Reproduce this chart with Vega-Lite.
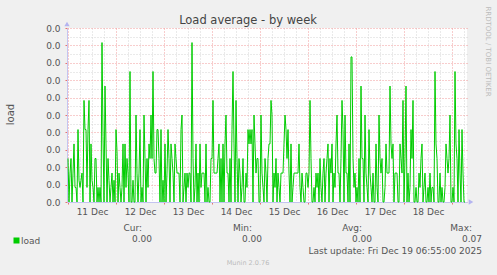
{
"$schema": "https://vega.github.io/schema/vega-lite/v6.json",
"width": 400, "height": 174,
"autosize": {"type": "none"},
"padding": {"left": 67, "top": 28, "right": 30, "bottom": 73},
"background": "#f0f0f0",
"title": {"text": "Load average - by week", "frame": "group", "anchor": "middle", "dx": -19, "offset": -30, "baseline": "alphabetic", "fontSize": 11.5, "fontWeight": "normal", "color": "#444444", "font": "DejaVu Sans"},
"datasets": {
"stats": [{"stat":"Cur","label":"Cur:","value":0},{"stat":"Min","label":"Min:","value":0},{"stat":"Avg","label":"Avg:","value":0},{"stat":"Max","label":"Max:","value":0.07}],
"load": [
{"t":"2025-12-11T00:00","v":0.02},{"t":"2025-12-11T00:30","v":0},{"t":"2025-12-11T01:00","v":0.0133},{"t":"2025-12-11T01:30","v":0.02},{"t":"2025-12-11T02:00","v":0},{"t":"2025-12-11T02:30","v":0.0133},{"t":"2025-12-11T03:00","v":0.0267},{"t":"2025-12-11T03:30","v":0.0067},{"t":"2025-12-11T04:00","v":0.0067},{"t":"2025-12-11T04:30","v":0},{"t":"2025-12-11T05:00","v":0.0333},{"t":"2025-12-11T05:30","v":0.01},{"t":"2025-12-11T06:00","v":0.0067},{"t":"2025-12-11T06:30","v":0.01},{"t":"2025-12-11T07:00","v":0.0133},{"t":"2025-12-11T07:30","v":0},{"t":"2025-12-11T08:00","v":0.0467},{"t":"2025-12-11T08:30","v":0.0333},{"t":"2025-12-11T09:00","v":0.0333},{"t":"2025-12-11T09:30","v":0.0067},{"t":"2025-12-11T10:00","v":0.0333},{"t":"2025-12-11T10:30","v":0.0467},{"t":"2025-12-11T11:00","v":0},{"t":"2025-12-11T11:30","v":0.0267},{"t":"2025-12-11T12:00","v":0.01},{"t":"2025-12-11T12:30","v":0.0067},{"t":"2025-12-11T13:00","v":0},{"t":"2025-12-11T13:30","v":0.02},{"t":"2025-12-11T14:00","v":0.02},{"t":"2025-12-11T14:30","v":0},{"t":"2025-12-11T15:00","v":0.0067},{"t":"2025-12-11T15:30","v":0},{"t":"2025-12-11T16:00","v":0.0067},{"t":"2025-12-11T16:30","v":0},{"t":"2025-12-11T17:00","v":0.0733},{"t":"2025-12-11T17:30","v":0.03},{"t":"2025-12-11T18:00","v":0},{"t":"2025-12-11T18:30","v":0.0533},{"t":"2025-12-11T19:00","v":0.0267},{"t":"2025-12-11T19:30","v":0},{"t":"2025-12-11T20:00","v":0.02},{"t":"2025-12-11T20:30","v":0.01},{"t":"2025-12-11T21:00","v":0},{"t":"2025-12-11T21:30","v":0.0067},{"t":"2025-12-11T22:00","v":0.0133},{"t":"2025-12-11T22:30","v":0},{"t":"2025-12-11T23:00","v":0.01},{"t":"2025-12-11T23:30","v":0},
{"t":"2025-12-12T00:00","v":0.0333},{"t":"2025-12-12T00:30","v":0.0233},{"t":"2025-12-12T01:00","v":0},{"t":"2025-12-12T01:30","v":0.0133},{"t":"2025-12-12T02:00","v":0.0067},{"t":"2025-12-12T02:30","v":0},{"t":"2025-12-12T03:00","v":0.0067},{"t":"2025-12-12T03:30","v":0.0267},{"t":"2025-12-12T04:00","v":0},{"t":"2025-12-12T04:30","v":0.0267},{"t":"2025-12-12T05:00","v":0.0067},{"t":"2025-12-12T05:30","v":0.02},{"t":"2025-12-12T06:00","v":0.0133},{"t":"2025-12-12T06:30","v":0},{"t":"2025-12-12T07:00","v":0.06},{"t":"2025-12-12T07:30","v":0},{"t":"2025-12-12T08:00","v":0},{"t":"2025-12-12T08:30","v":0.01},{"t":"2025-12-12T09:00","v":0},{"t":"2025-12-12T09:30","v":0},{"t":"2025-12-12T10:00","v":0.04},{"t":"2025-12-12T10:30","v":0.0133},{"t":"2025-12-12T11:00","v":0},{"t":"2025-12-12T11:30","v":0.0133},{"t":"2025-12-12T12:00","v":0.0333},{"t":"2025-12-12T12:30","v":0},{"t":"2025-12-12T13:00","v":0.0067},{"t":"2025-12-12T13:30","v":0},{"t":"2025-12-12T14:00","v":0.04},{"t":"2025-12-12T14:30","v":0.02},{"t":"2025-12-12T15:00","v":0},{"t":"2025-12-12T15:30","v":0.02},{"t":"2025-12-12T16:00","v":0.0067},{"t":"2025-12-12T16:30","v":0.0267},{"t":"2025-12-12T17:00","v":0.02},{"t":"2025-12-12T17:30","v":0.04},{"t":"2025-12-12T18:00","v":0.02},{"t":"2025-12-12T18:30","v":0.06},{"t":"2025-12-12T19:00","v":0.02},{"t":"2025-12-12T19:30","v":0.0133},{"t":"2025-12-12T20:00","v":0.0133},{"t":"2025-12-12T20:30","v":0.0333},{"t":"2025-12-12T21:00","v":0.0333},{"t":"2025-12-12T21:30","v":0.02},{"t":"2025-12-12T22:00","v":0},{"t":"2025-12-12T22:30","v":0.0333},{"t":"2025-12-12T23:00","v":0},{"t":"2025-12-12T23:30","v":0.01},
{"t":"2025-12-13T00:00","v":0},{"t":"2025-12-13T00:30","v":0.0267},{"t":"2025-12-13T01:00","v":0},{"t":"2025-12-13T01:30","v":0.0133},{"t":"2025-12-13T02:00","v":0.0333},{"t":"2025-12-13T02:30","v":0.02},{"t":"2025-12-13T03:00","v":0},{"t":"2025-12-13T03:30","v":0.0267},{"t":"2025-12-13T04:00","v":0.02},{"t":"2025-12-13T04:30","v":0.0133},{"t":"2025-12-13T05:00","v":0},{"t":"2025-12-13T05:30","v":0.0267},{"t":"2025-12-13T06:00","v":0.02},{"t":"2025-12-13T06:30","v":0.0133},{"t":"2025-12-13T07:00","v":0.0133},{"t":"2025-12-13T07:30","v":0.0133},{"t":"2025-12-13T08:00","v":0},{"t":"2025-12-13T08:30","v":0.0333},{"t":"2025-12-13T09:00","v":0.04},{"t":"2025-12-13T09:30","v":0},{"t":"2025-12-13T10:00","v":0.0067},{"t":"2025-12-13T10:30","v":0.0133},{"t":"2025-12-13T11:00","v":0},{"t":"2025-12-13T11:30","v":0.0133},{"t":"2025-12-13T12:00","v":0.0067},{"t":"2025-12-13T12:30","v":0.0133},{"t":"2025-12-13T13:00","v":0.0133},{"t":"2025-12-13T13:30","v":0},{"t":"2025-12-13T14:00","v":0.0733},{"t":"2025-12-13T14:30","v":0.02},{"t":"2025-12-13T15:00","v":0},{"t":"2025-12-13T15:30","v":0.0067},{"t":"2025-12-13T16:00","v":0.0267},{"t":"2025-12-13T16:30","v":0},{"t":"2025-12-13T17:00","v":0.0133},{"t":"2025-12-13T17:30","v":0},{"t":"2025-12-13T18:00","v":0.0267},{"t":"2025-12-13T18:30","v":0.0067},{"t":"2025-12-13T19:00","v":0.0133},{"t":"2025-12-13T19:30","v":0.0133},{"t":"2025-12-13T20:00","v":0.0133},{"t":"2025-12-13T20:30","v":0},{"t":"2025-12-13T21:00","v":0.0267},{"t":"2025-12-13T21:30","v":0},{"t":"2025-12-13T22:00","v":0.0067},{"t":"2025-12-13T22:30","v":0},{"t":"2025-12-13T23:00","v":0},{"t":"2025-12-13T23:30","v":0.02},
{"t":"2025-12-14T00:00","v":0.02},{"t":"2025-12-14T00:30","v":0.0467},{"t":"2025-12-14T01:00","v":0.0133},{"t":"2025-12-14T01:30","v":0.0133},{"t":"2025-12-14T02:00","v":0.0133},{"t":"2025-12-14T02:30","v":0.0133},{"t":"2025-12-14T03:00","v":0.02},{"t":"2025-12-14T03:30","v":0.0267},{"t":"2025-12-14T04:00","v":0},{"t":"2025-12-14T04:30","v":0.02},{"t":"2025-12-14T05:00","v":0},{"t":"2025-12-14T05:30","v":0.0267},{"t":"2025-12-14T06:00","v":0},{"t":"2025-12-14T06:30","v":0.0267},{"t":"2025-12-14T07:00","v":0.04},{"t":"2025-12-14T07:30","v":0.0133},{"t":"2025-12-14T08:00","v":0.0133},{"t":"2025-12-14T08:30","v":0},{"t":"2025-12-14T09:00","v":0.02},{"t":"2025-12-14T09:30","v":0},{"t":"2025-12-14T10:00","v":0.0333},{"t":"2025-12-14T10:30","v":0.06},{"t":"2025-12-14T11:00","v":0.0267},{"t":"2025-12-14T11:30","v":0},{"t":"2025-12-14T12:00","v":0.0467},{"t":"2025-12-14T12:30","v":0.02},{"t":"2025-12-14T13:00","v":0},{"t":"2025-12-14T13:30","v":0.02},{"t":"2025-12-14T14:00","v":0.0133},{"t":"2025-12-14T14:30","v":0},{"t":"2025-12-14T15:00","v":0.0067},{"t":"2025-12-14T15:30","v":0.02},{"t":"2025-12-14T16:00","v":0},{"t":"2025-12-14T16:30","v":0},{"t":"2025-12-14T17:00","v":0.0133},{"t":"2025-12-14T17:30","v":0.0067},{"t":"2025-12-14T18:00","v":0.0333},{"t":"2025-12-14T18:30","v":0.0267},{"t":"2025-12-14T19:00","v":0.0333},{"t":"2025-12-14T19:30","v":0.0267},{"t":"2025-12-14T20:00","v":0.0333},{"t":"2025-12-14T20:30","v":0},{"t":"2025-12-14T21:00","v":0.04},{"t":"2025-12-14T21:30","v":0.0267},{"t":"2025-12-14T22:00","v":0.0133},{"t":"2025-12-14T22:30","v":0.02},{"t":"2025-12-14T23:00","v":0.02},{"t":"2025-12-14T23:30","v":0},
{"t":"2025-12-15T00:00","v":0},{"t":"2025-12-15T00:30","v":0.04},{"t":"2025-12-15T01:00","v":0.0133},{"t":"2025-12-15T01:30","v":0.0067},{"t":"2025-12-15T02:00","v":0},{"t":"2025-12-15T02:30","v":0.02},{"t":"2025-12-15T03:00","v":0.0133},{"t":"2025-12-15T03:30","v":0},{"t":"2025-12-15T04:00","v":0.02},{"t":"2025-12-15T04:30","v":0.0267},{"t":"2025-12-15T05:00","v":0.0267},{"t":"2025-12-15T05:30","v":0.0467},{"t":"2025-12-15T06:00","v":0.04},{"t":"2025-12-15T06:30","v":0},{"t":"2025-12-15T07:00","v":0.0133},{"t":"2025-12-15T07:30","v":0.0067},{"t":"2025-12-15T08:00","v":0.02},{"t":"2025-12-15T08:30","v":0},{"t":"2025-12-15T09:00","v":0.0133},{"t":"2025-12-15T09:30","v":0.0067},{"t":"2025-12-15T10:00","v":0},{"t":"2025-12-15T10:30","v":0.0133},{"t":"2025-12-15T11:00","v":0.0133},{"t":"2025-12-15T11:30","v":0.0133},{"t":"2025-12-15T12:00","v":0.0267},{"t":"2025-12-15T12:30","v":0.04},{"t":"2025-12-15T13:00","v":0.0333},{"t":"2025-12-15T13:30","v":0.02},{"t":"2025-12-15T14:00","v":0.0333},{"t":"2025-12-15T14:30","v":0.0133},{"t":"2025-12-15T15:00","v":0},{"t":"2025-12-15T15:30","v":0.0267},{"t":"2025-12-15T16:00","v":0},{"t":"2025-12-15T16:30","v":0.0067},{"t":"2025-12-15T17:00","v":0.0133},{"t":"2025-12-15T17:30","v":0.0133},{"t":"2025-12-15T18:00","v":0.0133},{"t":"2025-12-15T18:30","v":0.0133},{"t":"2025-12-15T19:00","v":0.0133},{"t":"2025-12-15T19:30","v":0.0267},{"t":"2025-12-15T20:00","v":0.0067},{"t":"2025-12-15T20:30","v":0},{"t":"2025-12-15T21:00","v":0.0133},{"t":"2025-12-15T21:30","v":0.0067},{"t":"2025-12-15T22:00","v":0},{"t":"2025-12-15T22:30","v":0},{"t":"2025-12-15T23:00","v":0.0133},{"t":"2025-12-15T23:30","v":0.0133},
{"t":"2025-12-16T00:00","v":0.0067},{"t":"2025-12-16T00:30","v":0.0133},{"t":"2025-12-16T01:00","v":0.0467},{"t":"2025-12-16T01:30","v":0.02},{"t":"2025-12-16T02:00","v":0},{"t":"2025-12-16T02:30","v":0},{"t":"2025-12-16T03:00","v":0.0067},{"t":"2025-12-16T03:30","v":0},{"t":"2025-12-16T04:00","v":0.0133},{"t":"2025-12-16T04:30","v":0.0067},{"t":"2025-12-16T05:00","v":0.0133},{"t":"2025-12-16T05:30","v":0},{"t":"2025-12-16T06:00","v":0.02},{"t":"2025-12-16T06:30","v":0.0067},{"t":"2025-12-16T07:00","v":0},{"t":"2025-12-16T07:30","v":0.0133},{"t":"2025-12-16T08:00","v":0.02},{"t":"2025-12-16T08:30","v":0},{"t":"2025-12-16T09:00","v":0.0133},{"t":"2025-12-16T09:30","v":0.02},{"t":"2025-12-16T10:00","v":0.0267},{"t":"2025-12-16T10:30","v":0},{"t":"2025-12-16T11:00","v":0.02},{"t":"2025-12-16T11:30","v":0.0133},{"t":"2025-12-16T12:00","v":0.0267},{"t":"2025-12-16T12:30","v":0},{"t":"2025-12-16T13:00","v":0.0133},{"t":"2025-12-16T13:30","v":0.0067},{"t":"2025-12-16T14:00","v":0.0267},{"t":"2025-12-16T14:30","v":0.04},{"t":"2025-12-16T15:00","v":0.0133},{"t":"2025-12-16T15:30","v":0.0133},{"t":"2025-12-16T16:00","v":0},{"t":"2025-12-16T16:30","v":0.02},{"t":"2025-12-16T17:00","v":0.0467},{"t":"2025-12-16T17:30","v":0.0333},{"t":"2025-12-16T18:00","v":0},{"t":"2025-12-16T18:30","v":0.04},{"t":"2025-12-16T19:00","v":0.0133},{"t":"2025-12-16T19:30","v":0.0133},{"t":"2025-12-16T20:00","v":0},{"t":"2025-12-16T20:30","v":0.0267},{"t":"2025-12-16T21:00","v":0},{"t":"2025-12-16T21:30","v":0.0667},{"t":"2025-12-16T22:00","v":0.0667},{"t":"2025-12-16T22:30","v":0.02},{"t":"2025-12-16T23:00","v":0.0067},{"t":"2025-12-16T23:30","v":0.0133},
{"t":"2025-12-17T00:00","v":0},{"t":"2025-12-17T00:30","v":0.0067},{"t":"2025-12-17T01:00","v":0},{"t":"2025-12-17T01:30","v":0.02},{"t":"2025-12-17T02:00","v":0},{"t":"2025-12-17T02:30","v":0.0533},{"t":"2025-12-17T03:00","v":0.02},{"t":"2025-12-17T03:30","v":0.02},{"t":"2025-12-17T04:00","v":0},{"t":"2025-12-17T04:30","v":0.04},{"t":"2025-12-17T05:00","v":0.0133},{"t":"2025-12-17T05:30","v":0.0067},{"t":"2025-12-17T06:00","v":0},{"t":"2025-12-17T06:30","v":0.0333},{"t":"2025-12-17T07:00","v":0.0133},{"t":"2025-12-17T07:30","v":0.0067},{"t":"2025-12-17T08:00","v":0},{"t":"2025-12-17T08:30","v":0.0133},{"t":"2025-12-17T09:00","v":0},{"t":"2025-12-17T09:30","v":0},{"t":"2025-12-17T10:00","v":0.0267},{"t":"2025-12-17T10:30","v":0.0067},{"t":"2025-12-17T11:00","v":0},{"t":"2025-12-17T11:30","v":0.04},{"t":"2025-12-17T12:00","v":0.02},{"t":"2025-12-17T12:30","v":0.0133},{"t":"2025-12-17T13:00","v":0.02},{"t":"2025-12-17T13:30","v":0},{"t":"2025-12-17T14:00","v":0},{"t":"2025-12-17T14:30","v":0.0067},{"t":"2025-12-17T15:00","v":0.0267},{"t":"2025-12-17T15:30","v":0.0133},{"t":"2025-12-17T16:00","v":0.0133},{"t":"2025-12-17T16:30","v":0.0133},{"t":"2025-12-17T17:00","v":0.0533},{"t":"2025-12-17T17:30","v":0.0267},{"t":"2025-12-17T18:00","v":0.02},{"t":"2025-12-17T18:30","v":0.0267},{"t":"2025-12-17T19:00","v":0},{"t":"2025-12-17T19:30","v":0.0133},{"t":"2025-12-17T20:00","v":0.0133},{"t":"2025-12-17T20:30","v":0.0133},{"t":"2025-12-17T21:00","v":0},{"t":"2025-12-17T21:30","v":0},{"t":"2025-12-17T22:00","v":0.0267},{"t":"2025-12-17T22:30","v":0.02},{"t":"2025-12-17T23:00","v":0.0133},{"t":"2025-12-17T23:30","v":0.0467},
{"t":"2025-12-18T00:00","v":0},{"t":"2025-12-18T00:30","v":0.02},{"t":"2025-12-18T01:00","v":0.0533},{"t":"2025-12-18T01:30","v":0},{"t":"2025-12-18T02:00","v":0.0133},{"t":"2025-12-18T02:30","v":0},{"t":"2025-12-18T03:00","v":0.0067},{"t":"2025-12-18T03:30","v":0.0333},{"t":"2025-12-18T04:00","v":0.02},{"t":"2025-12-18T04:30","v":0.0467},{"t":"2025-12-18T05:00","v":0},{"t":"2025-12-18T05:30","v":0},{"t":"2025-12-18T06:00","v":0.0067},{"t":"2025-12-18T06:30","v":0},{"t":"2025-12-18T07:00","v":0},{"t":"2025-12-18T07:30","v":0.0133},{"t":"2025-12-18T08:00","v":0.0067},{"t":"2025-12-18T08:30","v":0.02},{"t":"2025-12-18T09:00","v":0.0267},{"t":"2025-12-18T09:30","v":0},{"t":"2025-12-18T10:00","v":0.0067},{"t":"2025-12-18T10:30","v":0.0133},{"t":"2025-12-18T11:00","v":0},{"t":"2025-12-18T11:30","v":0},{"t":"2025-12-18T12:00","v":0.0067},{"t":"2025-12-18T12:30","v":0},{"t":"2025-12-18T13:00","v":0.0133},{"t":"2025-12-18T13:30","v":0},{"t":"2025-12-18T14:00","v":0.0067},{"t":"2025-12-18T14:30","v":0.0067},{"t":"2025-12-18T15:00","v":0},{"t":"2025-12-18T15:30","v":0.06},{"t":"2025-12-18T16:00","v":0.0267},{"t":"2025-12-18T16:30","v":0.02},{"t":"2025-12-18T17:00","v":0},{"t":"2025-12-18T17:30","v":0},{"t":"2025-12-18T18:00","v":0.0133},{"t":"2025-12-18T18:30","v":0},{"t":"2025-12-18T19:00","v":0.0067},{"t":"2025-12-18T19:30","v":0},{"t":"2025-12-18T20:00","v":0},{"t":"2025-12-18T20:30","v":0.0067},{"t":"2025-12-18T21:00","v":0.0267},{"t":"2025-12-18T21:30","v":0.02},{"t":"2025-12-18T22:00","v":0.0133},{"t":"2025-12-18T22:30","v":0.02},{"t":"2025-12-18T23:00","v":0.04},{"t":"2025-12-18T23:30","v":0},
{"t":"2025-12-19T00:00","v":0},{"t":"2025-12-19T00:30","v":0.0067},{"t":"2025-12-19T01:00","v":0},{"t":"2025-12-19T01:30","v":0.06},{"t":"2025-12-19T02:00","v":0.0267},{"t":"2025-12-19T02:30","v":0.02},{"t":"2025-12-19T03:00","v":0},{"t":"2025-12-19T03:30","v":0.0333},{"t":"2025-12-19T04:00","v":0.0133},{"t":"2025-12-19T04:30","v":0},{"t":"2025-12-19T05:00","v":0.0333},{"t":"2025-12-19T05:30","v":0.0133},{"t":"2025-12-19T06:00","v":0},{"t":"2025-12-19T06:30","v":0}
]
},
"layer": [
{"data": {"name": "load"}, "mark": {"type": "line", "strokeOpacity": 0},
 "encoding": {
  "x": {"field": "t", "type": "temporal", "scale": {"domain": [{"year":2025,"month":12,"date":10,"hours":23,"minutes":30},{"year":2025,"month":12,"date":19,"hours":7,"minutes":30}], "nice": false},
        "axis": {"orient": "bottom", "grid": true, "gridColor": "#d4d4d4", "gridDash": [1,2],
                 "values": [{"year":2025,"month":12,"date":11,"hours":6},{"year":2025,"month":12,"date":11,"hours":12},{"year":2025,"month":12,"date":11,"hours":18},{"year":2025,"month":12,"date":12,"hours":6},{"year":2025,"month":12,"date":12,"hours":12},{"year":2025,"month":12,"date":12,"hours":18},{"year":2025,"month":12,"date":13,"hours":6},{"year":2025,"month":12,"date":13,"hours":12},{"year":2025,"month":12,"date":13,"hours":18},{"year":2025,"month":12,"date":14,"hours":6},{"year":2025,"month":12,"date":14,"hours":12},{"year":2025,"month":12,"date":14,"hours":18},{"year":2025,"month":12,"date":15,"hours":6},{"year":2025,"month":12,"date":15,"hours":12},{"year":2025,"month":12,"date":15,"hours":18},{"year":2025,"month":12,"date":16,"hours":6},{"year":2025,"month":12,"date":16,"hours":12},{"year":2025,"month":12,"date":16,"hours":18},{"year":2025,"month":12,"date":17,"hours":6},{"year":2025,"month":12,"date":17,"hours":12},{"year":2025,"month":12,"date":17,"hours":18},{"year":2025,"month":12,"date":18,"hours":6},{"year":2025,"month":12,"date":18,"hours":12},{"year":2025,"month":12,"date":18,"hours":18},{"year":2025,"month":12,"date":19,"hours":6}],
                 "labels": false, "ticks": false, "domain": false, "title": null}},
  "y": {"field": "v", "type": "quantitative", "scale": {"domain": [0, 0.08], "nice": false, "zero": false},
        "axis": {"orient": "right", "grid": true, "gridColor": "#d4d4d4", "gridDash": [1,2], "values": [0.004,0.012,0.02,0.028,0.036,0.044,0.052,0.06,0.068,0.076], "labels": false, "ticks": false, "domain": false,
                 "title": "RRDTOOL / TOBI OETIKER", "titleAngle": 90, "titleX": 20, "titleY": 23, "titleAlign": "center", "titleBaseline": "middle", "titleFontSize": 7, "titleColor": "#bbbbbb", "titleFontWeight": "normal"}}
 }},
{"data": {"name": "load"}, "mark": {"type": "line", "strokeOpacity": 0},
 "encoding": {
  "x": {"field": "t", "type": "temporal", "scale": {"domain": [{"year":2025,"month":12,"date":10,"hours":23,"minutes":30},{"year":2025,"month":12,"date":19,"hours":7,"minutes":30}], "nice": false},
        "axis": {"orient": "bottom", "grid": true, "gridColor": "#f09a9a", "gridDash": [1,2],
                 "values": [{"year":2025,"month":12,"date":11},{"year":2025,"month":12,"date":12},{"year":2025,"month":12,"date":13},{"year":2025,"month":12,"date":14},{"year":2025,"month":12,"date":15},{"year":2025,"month":12,"date":16},{"year":2025,"month":12,"date":17},{"year":2025,"month":12,"date":18},{"year":2025,"month":12,"date":19}],
                 "labels": false, "ticks": true, "tickColor": "#e87070", "tickSize": 2, "domain": false, "title": null}},
  "y": {"field": "v", "type": "quantitative", "scale": {"domain": [0, 0.08], "nice": false, "zero": false},
        "axis": {"orient": "left", "grid": true, "gridColor": "#f09a9a", "gridDash": [1,2], "values": [0,0.008,0.016,0.024,0.032,0.04,0.048,0.056,0.064,0.072,0.08], "labels": false, "ticks": true, "tickColor": "#e87070", "tickSize": 2, "domain": false, "title": null}}
 }},
{"data": {"name": "load"}, "mark": {"type": "line", "strokeWidth": 1, "interpolate": "linear"},
 "encoding": {
  "x": {"field": "t", "type": "temporal", "scale": {"domain": [{"year":2025,"month":12,"date":10,"hours":23,"minutes":30},{"year":2025,"month":12,"date":19,"hours":7,"minutes":30}], "nice": false},
        "axis": {"orient": "bottom", "grid": false, "values": [{"year":2025,"month":12,"date":11,"hours":12},{"year":2025,"month":12,"date":12,"hours":12},{"year":2025,"month":12,"date":13,"hours":12},{"year":2025,"month":12,"date":14,"hours":12},{"year":2025,"month":12,"date":15,"hours":12},{"year":2025,"month":12,"date":16,"hours":12},{"year":2025,"month":12,"date":17,"hours":12},{"year":2025,"month":12,"date":18,"hours":12}],
                 "format": "%d %b", "labelPadding": 5, "ticks": false, "domain": true, "domainColor": "#c4c4f0", "title": null, "labelFlush": false, "labelOverlap": false}},
  "y": {"field": "v", "type": "quantitative", "scale": {"domain": [0, 0.08], "nice": false, "zero": false},
        "axis": {"orient": "left", "grid": false, "values": [0,0.008,0.016,0.024,0.032,0.04,0.048,0.056,0.064,0.072,0.08], "labelExpr": "'0.0'", "labelPadding": 7, "ticks": false, "domain": true, "domainColor": "#c4c4f0", "labelOverlap": false,
                 "title": "load", "titleX": -57, "titleY": 86, "titleAngle": -90, "titleAlign": "center", "titleBaseline": "middle", "titleFontSize": 10, "titleColor": "#555555", "titleFontWeight": "normal"}},
  "color": {"datum": "load", "scale": {"range": ["#00cc00"]},
            "legend": {"orient": "none", "legendX": -55, "legendY": 208, "symbolType": "square", "symbolSize": 36, "symbolFillColor": "#00cc00", "symbolStrokeWidth": 0, "labelFontSize": 9, "labelColor": "#555555", "labelOffset": 0, "padding": 0, "title": null}}
 }},
{"data": {"values": [{}]}, "mark": {"type": "point", "shape": "triangle-up", "filled": true, "size": 28, "color": "#b4b4f0", "opacity": 1, "yOffset": -4},
 "encoding": {
  "x": {"datum": {"year":2025,"month":12,"date":10,"hours":23,"minutes":30}, "type": "temporal", "scale": {"domain": [{"year":2025,"month":12,"date":10,"hours":23,"minutes":30},{"year":2025,"month":12,"date":19,"hours":7,"minutes":30}], "nice": false}, "axis": null},
  "y": {"datum": 0.08, "type": "quantitative", "scale": {"domain": [0, 0.08], "nice": false, "zero": false}, "axis": null}
 }},
{"data": {"values": [{}]}, "mark": {"type": "point", "shape": "triangle-right", "filled": true, "size": 28, "color": "#b4b4f0", "opacity": 1, "xOffset": 4},
 "encoding": {
  "x": {"datum": {"year":2025,"month":12,"date":19,"hours":7,"minutes":30}, "type": "temporal", "scale": {"domain": [{"year":2025,"month":12,"date":10,"hours":23,"minutes":30},{"year":2025,"month":12,"date":19,"hours":7,"minutes":30}], "nice": false}, "axis": null},
  "y": {"datum": 0, "type": "quantitative", "scale": {"domain": [0, 0.08], "nice": false, "zero": false}, "axis": null}
 }},
{"data": {"name": "stats"}, "mark": {"type": "text", "align": "right", "dx": -10, "fontSize": 9, "color": "#555555"},
 "encoding": {
  "x": {"field": "stat", "type": "nominal", "scale": {"type": "point", "domain": ["Cur","Min","Avg","Max"], "range": [85, 415], "padding": 0}, "axis": null},
  "y": {"datum": "head", "type": "nominal", "scale": {"type": "point", "domain": ["head","val","update","credit"], "range": [199.5, 234.5], "padding": 0}, "axis": null},
  "text": {"field": "label"}
 }},
{"data": {"name": "stats"}, "mark": {"type": "text", "align": "right", "fontSize": 9, "color": "#555555"},
 "encoding": {
  "x": {"field": "stat", "type": "nominal", "scale": {"type": "point", "domain": ["Cur","Min","Avg","Max"], "range": [85, 415], "padding": 0}, "axis": null},
  "y": {"datum": "val", "type": "nominal", "scale": {"type": "point", "domain": ["head","val","update","credit"], "range": [199.5, 234.5], "padding": 0}, "axis": null},
  "text": {"field": "value", "format": ".2f"}
 }},
{"data": {"values": [{"note": "Last update: Fri Dec 19 06:55:00 2025"}]}, "mark": {"type": "text", "align": "right", "fontSize": 9, "color": "#555555"},
 "encoding": {
  "x": {"datum": "Max", "type": "nominal", "scale": {"type": "point", "domain": ["Cur","Min","Avg","Max"], "range": [85, 415], "padding": 0}, "axis": null},
  "y": {"datum": "update", "type": "nominal", "scale": {"type": "point", "domain": ["head","val","update","credit"], "range": [199.5, 234.5], "padding": 0}, "axis": null},
  "text": {"field": "note"}
 }},
{"data": {"values": [{"note": "Munin 2.0.76"}]}, "mark": {"type": "text", "align": "center", "dx": -14, "fontSize": 6.5, "color": "#bbbbbb"},
 "encoding": {
  "x": {"datum": "Min", "type": "nominal", "scale": {"type": "point", "domain": ["Cur","Min","Avg","Max"], "range": [85, 415], "padding": 0}, "axis": null},
  "y": {"datum": "credit", "type": "nominal", "scale": {"type": "point", "domain": ["head","val","update","credit"], "range": [199.5, 234.5], "padding": 0}, "axis": null},
  "text": {"field": "note"}
 }}
],
"resolve": {"scale": {"x": "independent", "y": "independent"}},
"config": {
  "font": "DejaVu Sans",
  "view": {"fill": "#ffffff", "stroke": null},
  "axis": {"labelFont": "DejaVu Sans", "labelFontSize": 9, "labelColor": "#555555", "titleFont": "DejaVu Sans"},
  "text": {"font": "DejaVu Sans"}
}
}
